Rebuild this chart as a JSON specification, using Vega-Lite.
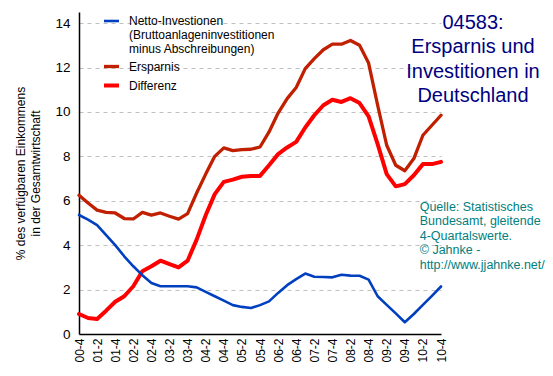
{
  "$schema": "https://vega.github.io/schema/vega-lite/v6.json",
  "width": 362,
  "height": 322,
  "autosize": {"type": "none"},
  "padding": {"left": 79, "top": 12, "right": 112, "bottom": 42},
  "background": "white",
  "config": {"view": {"stroke": null}, "font": "Liberation Sans"},
  "title": {
    "text": ["04583:", "Ersparnis und", "Investitionen in", "Deutschland"],
    "fontSize": 20,
    "fontWeight": "normal",
    "font": "Liberation Sans",
    "color": "#000080",
    "frame": "group",
    "anchor": "end",
    "align": "center",
    "baseline": "top",
    "lineHeight": 24.5,
    "dx": 32,
    "dy": 98
  },
  "data": {"values": [
    {"q":"00-4","s":"Differenz","v":0.9},{"q":"01-1","s":"Differenz","v":0.72},{"q":"01-2","s":"Differenz","v":0.68},{"q":"01-3","s":"Differenz","v":1.05},{"q":"01-4","s":"Differenz","v":1.45},
    {"q":"02-1","s":"Differenz","v":1.7},{"q":"02-2","s":"Differenz","v":2.15},{"q":"02-3","s":"Differenz","v":2.83},{"q":"02-4","s":"Differenz","v":3.05},
    {"q":"03-1","s":"Differenz","v":3.3},{"q":"03-2","s":"Differenz","v":3.15},{"q":"03-3","s":"Differenz","v":3.0},{"q":"03-4","s":"Differenz","v":3.3},
    {"q":"04-1","s":"Differenz","v":4.25},{"q":"04-2","s":"Differenz","v":5.35},{"q":"04-3","s":"Differenz","v":6.3},{"q":"04-4","s":"Differenz","v":6.85},
    {"q":"05-1","s":"Differenz","v":6.95},{"q":"05-2","s":"Differenz","v":7.08},{"q":"05-3","s":"Differenz","v":7.12},{"q":"05-4","s":"Differenz","v":7.12},
    {"q":"06-1","s":"Differenz","v":7.6},{"q":"06-2","s":"Differenz","v":8.1},{"q":"06-3","s":"Differenz","v":8.4},{"q":"06-4","s":"Differenz","v":8.65},
    {"q":"07-1","s":"Differenz","v":9.3},{"q":"07-2","s":"Differenz","v":9.85},{"q":"07-3","s":"Differenz","v":10.3},{"q":"07-4","s":"Differenz","v":10.55},
    {"q":"08-1","s":"Differenz","v":10.45},{"q":"08-2","s":"Differenz","v":10.62},{"q":"08-3","s":"Differenz","v":10.4},{"q":"08-4","s":"Differenz","v":9.8},
    {"q":"09-1","s":"Differenz","v":8.55},{"q":"09-2","s":"Differenz","v":7.2},{"q":"09-3","s":"Differenz","v":6.65},{"q":"09-4","s":"Differenz","v":6.75},
    {"q":"10-1","s":"Differenz","v":7.15},{"q":"10-2","s":"Differenz","v":7.65},{"q":"10-3","s":"Differenz","v":7.65},{"q":"10-4","s":"Differenz","v":7.75},

    {"q":"00-4","s":"Ersparnis","v":6.25},{"q":"01-1","s":"Ersparnis","v":5.9},{"q":"01-2","s":"Ersparnis","v":5.58},{"q":"01-3","s":"Ersparnis","v":5.48},{"q":"01-4","s":"Ersparnis","v":5.45},
    {"q":"02-1","s":"Ersparnis","v":5.2},{"q":"02-2","s":"Ersparnis","v":5.18},{"q":"02-3","s":"Ersparnis","v":5.48},{"q":"02-4","s":"Ersparnis","v":5.35},
    {"q":"03-1","s":"Ersparnis","v":5.45},{"q":"03-2","s":"Ersparnis","v":5.3},{"q":"03-3","s":"Ersparnis","v":5.17},{"q":"03-4","s":"Ersparnis","v":5.42},
    {"q":"04-1","s":"Ersparnis","v":6.35},{"q":"04-2","s":"Ersparnis","v":7.2},{"q":"04-3","s":"Ersparnis","v":8.0},{"q":"04-4","s":"Ersparnis","v":8.38},
    {"q":"05-1","s":"Ersparnis","v":8.26},{"q":"05-2","s":"Ersparnis","v":8.3},{"q":"05-3","s":"Ersparnis","v":8.32},{"q":"05-4","s":"Ersparnis","v":8.42},
    {"q":"06-1","s":"Ersparnis","v":9.1},{"q":"06-2","s":"Ersparnis","v":9.95},{"q":"06-3","s":"Ersparnis","v":10.6},{"q":"06-4","s":"Ersparnis","v":11.1},
    {"q":"07-1","s":"Ersparnis","v":11.95},{"q":"07-2","s":"Ersparnis","v":12.4},{"q":"07-3","s":"Ersparnis","v":12.8},{"q":"07-4","s":"Ersparnis","v":13.05},
    {"q":"08-1","s":"Ersparnis","v":13.05},{"q":"08-2","s":"Ersparnis","v":13.22},{"q":"08-3","s":"Ersparnis","v":13.0},{"q":"08-4","s":"Ersparnis","v":12.2},
    {"q":"09-1","s":"Ersparnis","v":10.3},{"q":"09-2","s":"Ersparnis","v":8.5},{"q":"09-3","s":"Ersparnis","v":7.6},{"q":"09-4","s":"Ersparnis","v":7.35},
    {"q":"10-1","s":"Ersparnis","v":7.9},{"q":"10-2","s":"Ersparnis","v":8.95},{"q":"10-3","s":"Ersparnis","v":9.4},{"q":"10-4","s":"Ersparnis","v":9.85},

    {"q":"00-4","s":"Netto-Investionen","v":5.36},{"q":"01-1","s":"Netto-Investionen","v":5.15},{"q":"01-2","s":"Netto-Investionen","v":4.9},{"q":"01-3","s":"Netto-Investionen","v":4.45},{"q":"01-4","s":"Netto-Investionen","v":4.0},
    {"q":"02-1","s":"Netto-Investionen","v":3.5},{"q":"02-2","s":"Netto-Investionen","v":3.05},{"q":"02-3","s":"Netto-Investionen","v":2.65},{"q":"02-4","s":"Netto-Investionen","v":2.3},
    {"q":"03-1","s":"Netto-Investionen","v":2.15},{"q":"03-2","s":"Netto-Investionen","v":2.15},{"q":"03-3","s":"Netto-Investionen","v":2.15},{"q":"03-4","s":"Netto-Investionen","v":2.15},
    {"q":"04-1","s":"Netto-Investionen","v":2.1},{"q":"04-2","s":"Netto-Investionen","v":1.9},{"q":"04-3","s":"Netto-Investionen","v":1.7},{"q":"04-4","s":"Netto-Investionen","v":1.5},
    {"q":"05-1","s":"Netto-Investionen","v":1.3},{"q":"05-2","s":"Netto-Investionen","v":1.22},{"q":"05-3","s":"Netto-Investionen","v":1.17},{"q":"05-4","s":"Netto-Investionen","v":1.3},
    {"q":"06-1","s":"Netto-Investionen","v":1.47},{"q":"06-2","s":"Netto-Investionen","v":1.85},{"q":"06-3","s":"Netto-Investionen","v":2.2},{"q":"06-4","s":"Netto-Investionen","v":2.47},
    {"q":"07-1","s":"Netto-Investionen","v":2.72},{"q":"07-2","s":"Netto-Investionen","v":2.58},{"q":"07-3","s":"Netto-Investionen","v":2.57},{"q":"07-4","s":"Netto-Investionen","v":2.55},
    {"q":"08-1","s":"Netto-Investionen","v":2.67},{"q":"08-2","s":"Netto-Investionen","v":2.63},{"q":"08-3","s":"Netto-Investionen","v":2.62},{"q":"08-4","s":"Netto-Investionen","v":2.45},
    {"q":"09-1","s":"Netto-Investionen","v":1.7},{"q":"09-2","s":"Netto-Investionen","v":1.31},{"q":"09-3","s":"Netto-Investionen","v":0.93},{"q":"09-4","s":"Netto-Investionen","v":0.53},
    {"q":"10-1","s":"Netto-Investionen","v":0.9},{"q":"10-2","s":"Netto-Investionen","v":1.31},{"q":"10-3","s":"Netto-Investionen","v":1.72},{"q":"10-4","s":"Netto-Investionen","v":2.14}
  ]},
  "layer": [
    {
      "mark": {"type": "line", "strokeCap": "round", "strokeJoin": "round"},
      "encoding": {
        "x": {
          "field": "q", "type": "ordinal", "sort": null,
          "scale": {"type": "point", "padding": 0},
          "axis": {
            "title": null,
            "values": ["00-4","01-2","01-4","02-2","02-4","03-2","03-4","04-2","04-4","05-2","05-4","06-2","06-4","07-2","07-4","08-2","08-4","09-2","09-4","10-2","10-4"],
            "labelAngle": 270,
            "labelFontSize": 12,
            "labelColor": "black",
            "labelPadding": 4,
            "ticks": false,
            "grid": false,
            "domainColor": "black",
            "domainWidth": 1.5
          }
        },
        "y": {
          "field": "v", "type": "quantitative",
          "scale": {"domain": [0, 14.5], "nice": false, "zero": true},
          "axis": {
            "values": [0,2,4,6,8,10,12,14],
            "title": ["% des verfügbaren Einkommens", "in der Gesamtwirtschaft"],
            "titleFontSize": 12,
            "titleFontWeight": "normal",
            "titleColor": "black",
            "titleLineHeight": 15.5,
            "titlePadding": 12,
            "labelFontSize": 13.5,
            "labelColor": "black",
            "labelPadding": 9,
            "ticks": false,
            "grid": true,
            "gridDash": [4, 4],
            "gridColor": "#c0c0c0",
            "domainColor": "black",
            "domainWidth": 1.5
          }
        },
        "color": {
          "field": "s", "type": "nominal",
          "scale": {"domain": ["Netto-Investionen", "Ersparnis", "Differenz"], "range": ["#0040C0", "#C02000", "#FF0000"]},
          "legend": {
            "orient": "none",
            "legendX": 23,
            "legendY": 0,
            "title": null,
            "symbolType": "stroke",
            "symbolSize": 225,
            "labelFontSize": 12,
            "labelColor": "black",
            "labelOffset": 8,
            "labelLimit": 400,
            "rowPadding": 2,
            "labelExpr": "datum.label == 'Netto-Investionen' ? ['Netto-Investionen', '(Bruttoanlageninvestitionen', 'minus Abschreibungen)'] : datum.label"
          }
        },
        "strokeWidth": {
          "field": "s", "type": "nominal",
          "scale": {"domain": ["Netto-Investionen", "Ersparnis", "Differenz"], "range": [2.6, 4, 7.5]},
          "legend": {
            "orient": "none",
            "legendX": 23,
            "legendY": 0,
            "title": null,
            "symbolType": "stroke",
            "symbolSize": 225,
            "labelFontSize": 12,
            "labelColor": "black",
            "labelOffset": 8,
            "labelLimit": 400,
            "rowPadding": 2,
            "labelExpr": "datum.label == 'Netto-Investionen' ? ['Netto-Investionen', '(Bruttoanlageninvestitionen', 'minus Abschreibungen)'] : datum.label"
          }
        }
      }
    },
    {
      "data": {"values": [{}]},
      "mark": {
        "type": "text",
        "text": ["Quelle: Statistisches", "Bundesamt, gleitende", "4-Quartalswerte.", "© Jahnke -", "http://www.jjahnke.net/"],
        "align": "left",
        "baseline": "top",
        "fontSize": 12.5,
        "lineHeight": 14.5,
        "color": "#008080",
        "dx": 33
      },
      "encoding": {
        "x": {"datum": "09-2"},
        "y": {"datum": 6.0}
      }
    }
  ]
}
